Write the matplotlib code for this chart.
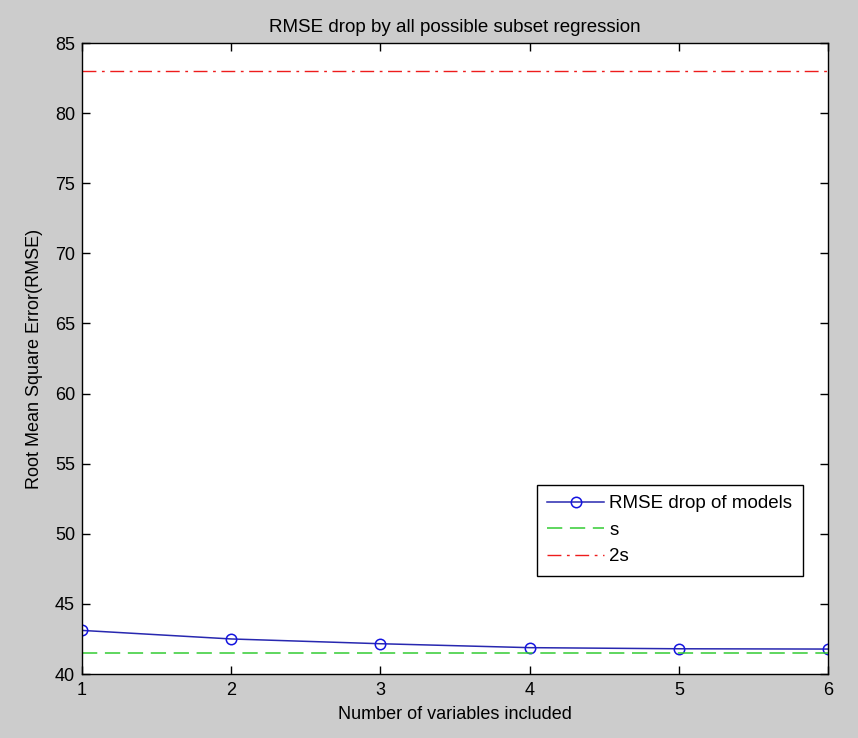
import numpy as np
import matplotlib.pyplot as plt

plt.rcParams['font.family'] = ['Liberation Sans', 'DejaVu Sans']

# datos
n_vars = [1, 2, 3, 4, 5, 6]
rmse = [43.11, 42.50, 42.16, 41.88, 41.80, 41.78]
s = 41.5
titulo = 'RMSE drop by all possible subset regression'

fig = plt.figure(figsize=(8.58, 7.38), dpi=100, facecolor='#cccccc')
ax = fig.add_axes([0.0956, 0.0867, 0.8695, 0.855])

ax.plot(n_vars, rmse, '-', color='#2828b0', lw=1.1, label='RMSE drop of models',
        marker='o', mfc='none', mec='#1414e0', ms=7.5, mew=1.1)
ax.plot([n_vars[0], n_vars[-1]], [s, s], color='#33cc33', lw=1.1,
        dashes=(10, 5), label='s')
ax.plot([n_vars[0], n_vars[-1]], [2 * s, 2 * s], color='#ee1c1c', lw=1.0,
        dashes=(10, 4, 2, 4), label='2s')

ax.set_xlim(1, 6)
ax.set_ylim(40, 85)
ax.set_xticks(n_vars)
ax.set_yticks(np.arange(40, 86, 5))
ax.tick_params(axis='both', direction='in', top=True, right=True,
               labelsize=13, length=5.5, width=1)
ax.tick_params(axis='x', pad=6)
ax.tick_params(axis='y', pad=5)
for sp in ax.spines.values():
    sp.set_linewidth(1.0)

ax.set_title(titulo, fontsize=13.5, pad=8)
ax.set_xlabel('Number of variables included', fontsize=13, labelpad=5)
ax.set_ylabel('Root Mean Square Error(RMSE)', fontsize=13)
ax.yaxis.set_label_coords(-0.052, 0.5)

leg = ax.legend(loc='upper left', bbox_to_anchor=(0.61, 0.2995), fontsize=13.5,
                fancybox=False, framealpha=1, edgecolor='black',
                handlelength=3.0, handletextpad=0.3, borderaxespad=0,
                borderpad=0.55, labelspacing=0.5)
leg.get_frame().set_linewidth(1)

fig.savefig('out.png', dpi=100, facecolor=fig.get_facecolor())
